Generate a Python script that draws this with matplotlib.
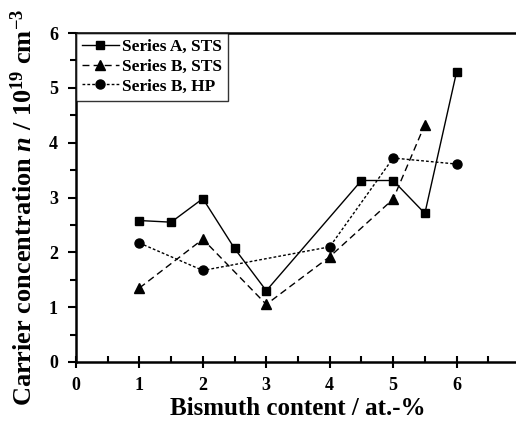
import numpy as np
import matplotlib
matplotlib.use("Agg")
import matplotlib.pyplot as plt
from matplotlib.ticker import MultipleLocator

plt.rcParams['font.family'] = 'Liberation Serif'
plt.rcParams['font.weight'] = 'bold'
plt.rcParams['mathtext.fontset'] = 'custom'
plt.rcParams['mathtext.rm'] = 'Liberation Serif:bold'
plt.rcParams['mathtext.it'] = 'Liberation Serif:italic:bold'
plt.rcParams['mathtext.bf'] = 'Liberation Serif:bold'

# Series A, STS
xa = [1, 1.5, 2, 2.5, 3, 4.5, 5, 5.5, 6]
ya = [2.58, 2.55, 2.98, 2.07, 1.30, 3.31, 3.31, 2.71, 5.29]
# Series B, STS
xb = [1, 2, 3, 4, 5, 5.5]
yb = [1.35, 2.24, 1.05, 1.92, 2.97, 4.33]
# Series B, HP
xc = [1, 2, 4, 5, 6]
yc = [2.17, 1.67, 2.10, 3.72, 3.61]

fig = plt.figure(figsize=(5.16, 4.28), dpi=100)
ax = fig.add_axes([76/516, 1-362/428, 444/516, 329/428])

ax.plot(xa, ya, color='black', lw=1.0, ls='-', marker='s', ms=6, label='Series A, STS')
ax.plot(xb, yb, color='black', lw=1.0, ls=(0, (5, 3)), marker='^', ms=7, label='Series B, STS')
ax.plot(xc, yc, color='black', lw=1.0, ls=(0, (2, 1.5)), marker='o', ms=6.5, label='Series B, HP')

ax.set_xlim(0, 7)
ax.set_ylim(0, 6)
ax.xaxis.set_major_locator(MultipleLocator(1))
ax.xaxis.set_minor_locator(MultipleLocator(0.5))
ax.yaxis.set_major_locator(MultipleLocator(1))
ax.yaxis.set_minor_locator(MultipleLocator(0.5))
ax.tick_params(axis='x', which='major', direction='inout', length=8, width=1.5, labelsize=13, pad=7)
ax.tick_params(axis='x', which='minor', direction='in', length=4, width=1.5)
ax.tick_params(axis='y', which='major', direction='out', length=6, width=1.5, labelsize=13, pad=7)
ax.tick_params(axis='y', which='minor', direction='out', length=4, width=1.5)
for lab in ax.get_xticklabels() + ax.get_yticklabels():
    lab.set_fontweight('bold')

for s in ['left', 'bottom', 'top']:
    ax.spines[s].set_linewidth(1.8)
ax.spines['right'].set_visible(False)

ax.set_xlabel('Bismuth content / at.-%', fontsize=18, fontweight='bold', labelpad=2)
ax.set_ylabel('Carrier concentration $n$ / 10$^{19}$ cm$^{-3}$', fontsize=19, fontweight='bold')
ax.yaxis.set_label_coords(-0.088, 0.47)

leg = ax.legend(loc='upper left', fontsize=12.5, frameon=True, fancybox=False,
                edgecolor='black', borderaxespad=0, handlelength=2.1,
                handletextpad=0.2, borderpad=0.35, labelspacing=0.2)
leg.get_frame().set_linewidth(1.0)
for t in leg.get_texts():
    t.set_fontweight('bold')

fig.savefig('out.png', dpi=100)
